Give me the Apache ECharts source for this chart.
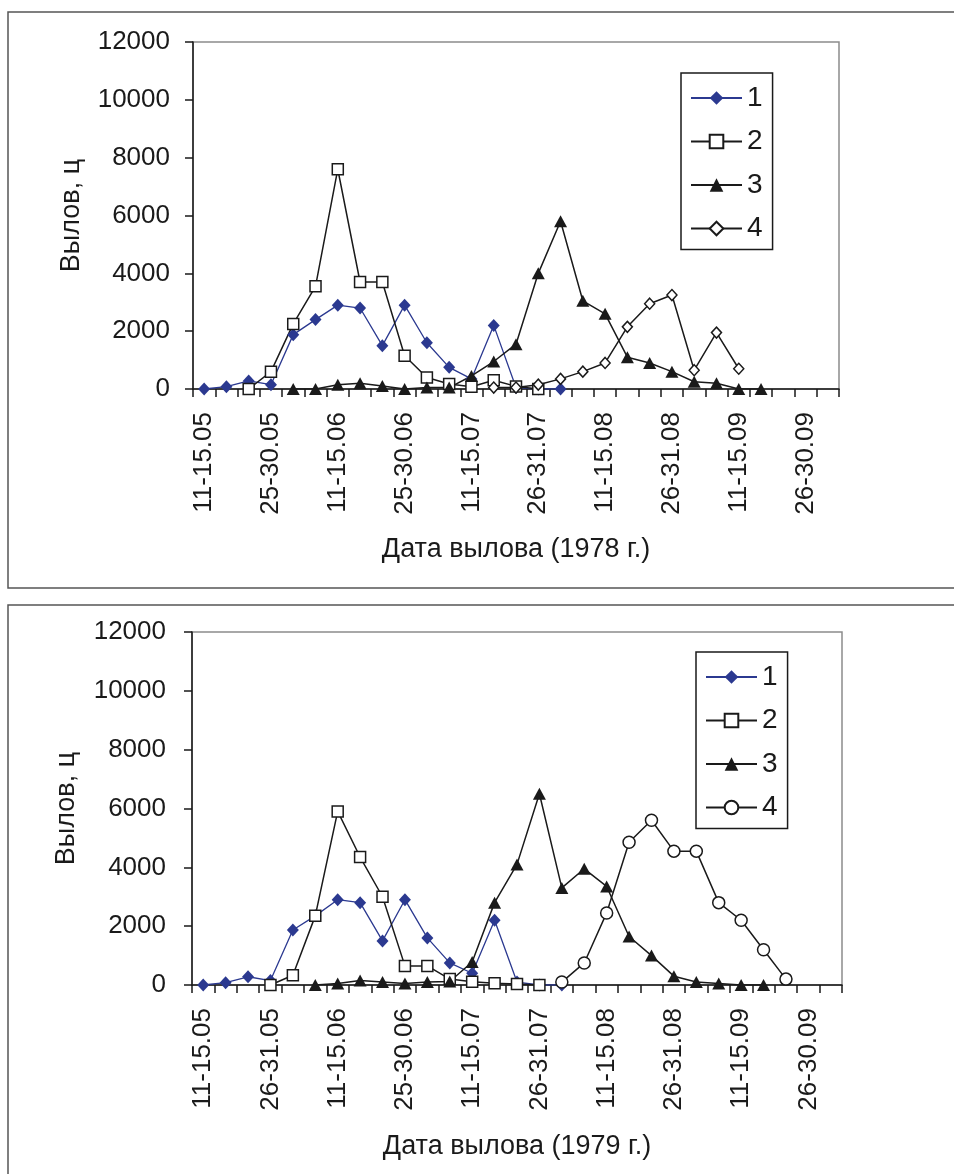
<!DOCTYPE html>
<html>
<head>
<meta charset="utf-8">
<script src="https://cdn.jsdelivr.net/npm/echarts@6/dist/echarts.min.js"></script>
<style>
html,body{margin:0;padding:0;background:#fff;width:954px;height:1174px;overflow:hidden;}
#c1{position:absolute;left:0;top:0;width:954px;height:595px;}
#c2{position:absolute;left:0;top:595px;width:954px;height:579px;}
</style>
</head>
<body>
<div id="c1"></div>
<div id="c2"></div>
<script>
// ---- data ----
const categories1978 = ["11-15.05","16-20.05","21-25.05","25-30.05","1-5.06","6-10.06","11-15.06","16-20.06","21-25.06","25-30.06","1-5.07","6-10.07","11-15.07","16-20.07","21-25.07","26-31.07","1-5.08","6-10.08","11-15.08","16-20.08","21-25.08","26-31.08","1-5.09","6-10.09","11-15.09","16-20.09","21-25.09","26-30.09","1-5.10"];
const categories1979 = ["11-15.05","16-20.05","21-25.05","26-31.05","1-5.06","6-10.06","11-15.06","16-20.06","21-25.06","25-30.06","1-5.07","6-10.07","11-15.07","16-20.07","21-25.07","26-31.07","1-5.08","6-10.08","11-15.08","16-20.08","21-25.08","26-31.08","1-5.09","6-10.09","11-15.09","16-20.09","21-25.09","26-30.09","1-5.10"];
const yTicks = [0, 2000, 4000, 6000, 8000, 10000, 12000];
const seriesNames = ["1", "2", "3", "4"];

const s1_1978 = [0,80,280,150,1880,2400,2900,2800,1500,2900,1600,750,350,2200,50,0,0,null,null,null,null,null,null,null,null,null,null,null,null];
const s2_1978 = [null,null,0,600,2250,3550,7600,3700,3700,1150,400,170,80,300,90,0,null,null,null,null,null,null,null,null,null,null,null,null,null];
const s3_1978 = [null,null,null,null,0,0,150,200,100,0,50,50,450,950,1550,4000,5800,3050,2600,1100,900,600,250,200,0,0,null,null,null];
const s4_1978 = [null,null,null,null,null,null,null,null,null,null,null,null,null,50,50,150,350,600,900,2150,2950,3250,650,1950,700,null,null,null,null];

const s1_1979 = [0,80,280,150,1870,2350,2900,2800,1500,2900,1600,750,400,2200,100,0,0,null,null,null,null,null,null,null,null,null,null,null,null];
const s2_1979 = [null,null,null,0,330,2350,5900,4350,3000,650,650,200,110,60,30,0,null,null,null,null,null,null,null,null,null,null,null,null,null];
const s3_1979 = [null,null,null,null,null,0,50,150,100,50,100,120,780,2800,4100,6500,3300,3950,3350,1650,1000,300,100,50,0,0,null,null,null];
const s4_1979 = [null,null,null,null,null,null,null,null,null,null,null,null,null,null,null,null,100,750,2450,4850,5600,4550,4550,2800,2200,1200,200,null,null];

// ---- styling helpers ----
const FONT = "'Liberation Sans', Arial, sans-serif";
const TXT = '#1a1a1a';
const BLUE = '#2b3990';

function buildOption(cfg) {
  const mk = (name, data, symbol, size, fill, stroke, color) => ({
    name, type: 'line', data, symbol, symbolSize: size, showSymbol: true,
    connectNulls: false,
    lineStyle: { color: color, width: color === BLUE ? 1.3 : 1.5 },
    itemStyle: { color: fill, borderColor: stroke, borderWidth: fill === '#ffffff' ? 1.5 : 0 },
    emphasis: { disabled: true }
  });
  return {
    animation: false,
    textStyle: { fontFamily: FONT },
    graphic: [{
      type: 'rect', shape: { x: 8, y: cfg.frameTop, width: 960, height: cfg.frameH },
      style: { fill: 'none', stroke: '#555', lineWidth: 1.5 }, z: -1
    }],
    grid: { left: cfg.gl, top: cfg.gt, width: cfg.gw, height: cfg.gh, show: true,
            borderColor: '#8c8c8c', borderWidth: 1.5, backgroundColor: 'transparent' },
    legend: {
      orient: 'vertical', left: cfg.lgl, top: cfg.lgt,
      data: seriesNames,
      borderColor: '#1a1a1a', borderWidth: 1.5, backgroundColor: '#fff',
      padding: [11, 10, 7, 9], itemWidth: 51, itemHeight: 17, itemGap: 15.5,
      textStyle: { fontSize: 28, color: TXT, fontFamily: FONT, lineHeight: 28 },
      selectedMode: false
    },
    xAxis: {
      type: 'category', data: cfg.cats, boundaryGap: true,
      name: cfg.xname, nameLocation: 'middle', nameGap: cfg.xnameGap,
      nameTextStyle: { fontSize: 27, color: TXT, fontFamily: FONT },
      axisLine: { lineStyle: { color: '#1a1a1a', width: 1.5 } },
      axisTick: { show: true, interval: 0, length: 8, lineStyle: { color: '#1a1a1a', width: 1.5 } },
      axisLabel: { interval: 2, rotate: 90, margin: 23, fontSize: 26, color: TXT, fontFamily: FONT },
      splitLine: { show: false }
    },
    yAxis: {
      type: 'value', min: 0, max: 12000, interval: 2000,
      name: 'Вылов, ц', nameLocation: 'middle', nameGap: cfg.ynameGap,
      nameTextStyle: { fontSize: 27, color: TXT, fontFamily: FONT },
      axisLine: { show: true, lineStyle: { color: '#1a1a1a', width: 1.5 } },
      axisTick: { show: true, length: 8, lineStyle: { color: '#1a1a1a', width: 1.5 } },
      axisLabel: { margin: cfg.ymargin, fontSize: 26, color: TXT, fontFamily: FONT,
                   formatter: v => yTicks.includes(v) ? String(v) : '' },
      splitLine: { show: false }
    },
    series: [
      mk(seriesNames[0], cfg.d[0], 'diamond', [12, 13], BLUE, BLUE, BLUE),
      mk(seriesNames[1], cfg.d[1], 'rect', 11, '#ffffff', '#1a1a1a', '#1a1a1a'),
      mk(seriesNames[2], cfg.d[2], 'triangle', [13, 12], '#1a1a1a', '#1a1a1a', '#1a1a1a'),
      mk(seriesNames[3], cfg.d[3], cfg.s4sym, cfg.s4size, '#ffffff', '#1a1a1a', '#1a1a1a')
    ]
  };
}

const c1 = echarts.init(document.getElementById('c1'), null, { renderer: 'canvas' });
c1.setOption(buildOption({
  frameTop: 12, frameH: 576,
  gl: 193, gt: 42, gw: 646, gh: 347,
  lgl: 681, lgt: 73,
  cats: categories1978, xname: 'Дата вылова (1978 г.)', xnameGap: 147, ynameGap: 108, ymargin: 23,
  d: [s1_1978, s2_1978, s3_1978, s4_1978], s4sym: 'diamond', s4size: [10, 11]
}));

const c2 = echarts.init(document.getElementById('c2'), null, { renderer: 'canvas' });
c2.setOption(buildOption({
  frameTop: 10, frameH: 600,
  gl: 192, gt: 37, gw: 650, gh: 353,
  lgl: 696, lgt: 57,
  cats: categories1979, xname: 'Дата вылова (1979 г.)', xnameGap: 148, ynameGap: 112, ymargin: 26,
  d: [s1_1979, s2_1979, s3_1979, s4_1979], s4sym: 'circle', s4size: 12
}));
</script>
</body>
</html>
